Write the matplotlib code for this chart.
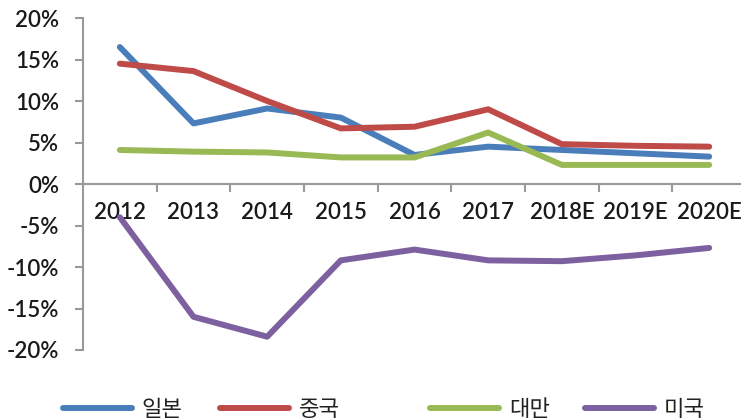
import matplotlib.pyplot as plt
import numpy as np

plt.rcParams['font.family'] = ['Lato', 'Noto Sans CJK KR', 'DejaVu Sans']

years = ['2012', '2013', '2014', '2015', '2016', '2017', '2018E', '2019E', '2020E']
japan = [16.5, 7.3, 9.1, 8.0, 3.5, 4.5, 4.1, 3.7, 3.3]
china = [14.5, 13.6, 10.0, 6.7, 6.9, 9.0, 4.8, 4.6, 4.5]
taiwan = [4.1, 3.9, 3.8, 3.2, 3.2, 6.2, 2.3, 2.3, 2.3]
usa = [-4.0, -16.0, -18.4, -9.2, -7.9, -9.2, -9.3, -8.6, -7.7]

names = ['일본', '중국', '대만', '미국']
colors = ['#4a7ebb', '#be4b48', '#98b954', '#7d60a0']

fig = plt.figure(figsize=(7.41, 4.2), dpi=100)
ax = fig.add_axes([83 / 741, 70 / 420, 663 / 741, 332 / 420])

x = np.arange(len(years))
lines = []
for vals, c in zip([japan, china, taiwan, usa], colors):
    ln, = ax.plot(x, vals, color=c, lw=4.3, solid_capstyle='round', solid_joinstyle='round')
    lines.append(ln)

ax.set_xlim(-0.5, len(years) - 0.5)
ax.set_ylim(-20, 20)
ax.set_yticks(np.arange(-20, 21, 5))
ax.set_yticklabels([f'{v}%' for v in range(-20, 21, 5)])

for s in ['top', 'right']:
    ax.spines[s].set_visible(False)
ax.spines['bottom'].set_position(('data', 0))
ax.spines['bottom'].set_color('#999999')
ax.spines['left'].set_color('#999999')
ax.spines['bottom'].set_linewidth(1.5)
ax.spines['left'].set_linewidth(1.5)

# tick marks at category boundaries, labels at centres
ax.set_xticks(np.arange(0.5, len(years) - 0.5, 1))
ax.set_xticklabels([])
ax.set_xticks(x, minor=True)
ax.set_xticklabels(years, minor=True)
ax.tick_params(axis='x', which='major', length=6, width=1.5, color='#999999', direction='out')
ax.tick_params(axis='x', which='minor', length=0, pad=13, labelsize=16, labelcolor='#1a1a1a')
ax.tick_params(axis='y', length=6, width=1.5, color='#999999', labelsize=16,
               labelcolor='#1a1a1a', pad=11)
for lab in ax.get_xticklabels(minor=True) + ax.get_yticklabels():
    lab.set_fontweight('semibold')

# legend entries spread along the bottom
legend_x = [63, 220, 430, 585]
for ln, name, lx in zip(lines, names, legend_x):
    leg = fig.legend([ln], [name], loc='center left', bbox_to_anchor=(lx / 741, 11 / 420),
                     frameon=False, handlelength=3.1, handletextpad=0.45, borderpad=0,
                     borderaxespad=0, prop={'family': 'Noto Sans CJK KR', 'size': 16,
                                            'weight': 'light'})
    leg.get_texts()[0].set_color('#222222')

fig.savefig('out.png', dpi=100)
